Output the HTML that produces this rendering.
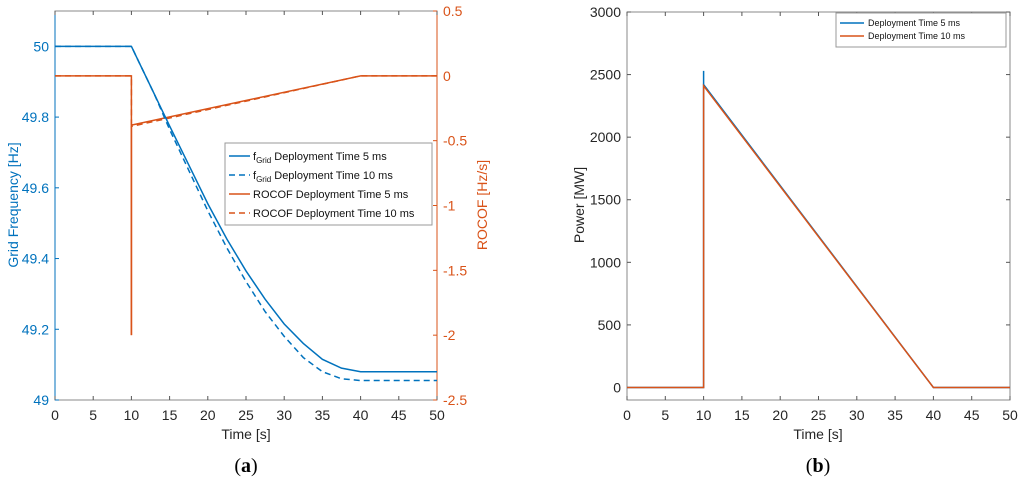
<!DOCTYPE html>
<html><head><meta charset="utf-8"><style>
body{margin:0;background:#fff;width:1024px;height:487px;overflow:hidden}
svg{font-family:"Liberation Sans",sans-serif}
</style></head><body>
<svg id="c" width="1024" height="487"></svg>
<script>
const tA=[0,10,10.001,11,12,13,14,15,17.5,20,22.5,25,27.5,30,32.5,35,37.5,40,50];
const fSolid=[50,50,50,49.955,49.91,49.865,49.82,49.775,49.665,49.555,49.455,49.365,49.285,49.215,49.16,49.115,49.09,49.08,49.08];
const fDash=[50,50,50,49.955,49.91,49.865,49.815,49.765,49.65,49.535,49.43,49.335,49.25,49.18,49.12,49.08,49.06,49.055,49.055];
const tR=[0,10,10,10,40,50];
const rocof5=[0,0,-2,-0.38,0,0];
const rocof10=[0,0,-2,-0.39,0,0];
const tP=[0,10,10,10,40,50];
const pow5=[0,0,2530,2420,0,0];
const pow10=[0,0,2410,2410,0,0];
const xTicks=[0,5,10,15,20,25,30,35,40,45,50];
const fTicks=[49,49.2,49.4,49.6,49.8,50];
const rTicks=[-2.5,-2,-1.5,-1,-0.5,0,0.5];
const pTicks=[0,500,1000,1500,2000,2500,3000];

const S=document.getElementById('c');const NS='http://www.w3.org/2000/svg';
function el(t,a,p){const e=document.createElementNS(NS,t);for(const k in a)e.setAttribute(k,a[k]);(p||S).appendChild(e);return e;}
function txt(x,y,s,a,p){const e=el('text',Object.assign({x:x,y:y},a),p);e.textContent=s;return e;}
const BLUE='#0072bd',RED='#d95319';
function lin(d0,d1,r0,r1){return v=>r0+(v-d0)/(d1-d0)*(r1-r0);}
function path(xs,ys,fx,fy){return xs.map((v,i)=>(i?'L':'M')+fx(v).toFixed(2)+','+fy(ys[i]).toFixed(2)).join('');}

// Panel A
const ax=lin(0,50,55,437), ayF=lin(49,50.1,400,11), ayR=lin(-2.5,0.5,400,11);
const gA=el('g',{});
el('rect',{x:55,y:11,width:382,height:389,fill:'#fff',stroke:'#888','stroke-width':1},gA);
el('line',{x1:55,y1:11,x2:55,y2:400,stroke:BLUE,'stroke-width':1},gA);
el('line',{x1:437,y1:11,x2:437,y2:400,stroke:RED,'stroke-width':1},gA);
xTicks.forEach(v=>{const x=ax(v);el('line',{x1:x,y1:400,x2:x,y2:396,stroke:'#555'},gA);el('line',{x1:x,y1:11,x2:x,y2:15,stroke:'#555'},gA);
 const t=txt(x,420,String(v),{'text-anchor':'middle','font-size':14,fill:'#262626'},gA);});
fTicks.forEach(v=>{const y=ayF(v);el('line',{x1:55,y1:y,x2:59,y2:y,stroke:BLUE},gA);
 const t=txt(49,y+5,String(v),{'text-anchor':'end','font-size':14,fill:BLUE},gA);});
rTicks.forEach(v=>{const y=ayR(v);el('line',{x1:437,y1:y,x2:433,y2:y,stroke:RED},gA);
 const t=txt(443,y+5,String(v),{'font-size':14,fill:RED},gA);});
let e;
e=el('path',{d:path(tR,rocof5,ax,ayR),fill:'none',stroke:RED,'stroke-width':1.5},gA);
e=el('path',{d:path(tR,rocof10,ax,ayR),fill:'none',stroke:RED,'stroke-width':1.5,'stroke-dasharray':'6,4'},gA);
e=el('path',{d:path(tA,fSolid,ax,ayF),fill:'none',stroke:BLUE,'stroke-width':1.5},gA);
e=el('path',{d:path(tA,fDash,ax,ayF),fill:'none',stroke:BLUE,'stroke-width':1.5,'stroke-dasharray':'6,4'},gA);
e=txt(246,439,'Time [s]',{'text-anchor':'middle','font-size':14,fill:'#262626'},gA);
e=txt(0,0,'Grid Frequency [Hz]',{'text-anchor':'middle','font-size':14,fill:BLUE,transform:'translate(18,205) rotate(-90)'},gA);
e=txt(0,0,'ROCOF [Hz/s]',{'text-anchor':'middle','font-size':14,fill:RED,transform:'translate(487,205) rotate(-90)'},gA);
const lg=el('g',{},gA);
el('rect',{x:225,y:143,width:207,height:82,fill:'#fff',stroke:'#999'},lg);
const ents=[[BLUE,'',true],[BLUE,'6,4',true],[RED,'',false],[RED,'6,4',false]];
const labs=[' Deployment Time 5 ms',' Deployment Time 10 ms','ROCOF Deployment Time 5 ms','ROCOF Deployment Time 10 ms'];
ents.forEach((en,i)=>{const y=156+i*19;const g=el('g',{},lg);
 el('line',{x1:229,y1:y,x2:250,y2:y,stroke:en[0],'stroke-width':1.5,'stroke-dasharray':en[1]||'none'},g);
 const t=txt(253,y+4,'',{'font-size':11,fill:'#111'},g);
 if(en[2]){const a=el('tspan',{},t);a.textContent='f';const b=el('tspan',{'font-size':8,dy:3},t);b.textContent='Grid';const c=el('tspan',{dy:-3},t);c.textContent=labs[i];}
 else t.textContent=labs[i];});
e=txt(246,472,'',{'text-anchor':'middle','font-size':20,'font-family':'Liberation Serif,serif'},gA);
e.innerHTML='(<tspan font-weight="bold">a</tspan>)';

// Panel B
const bx=lin(0,50,627,1010), by=lin(-100,3000,400,12);
const gB=el('g',{});
el('rect',{x:627,y:12,width:383,height:388,fill:'#fff',stroke:'#888'},gB);
xTicks.forEach(v=>{const x=bx(v);el('line',{x1:x,y1:400,x2:x,y2:396,stroke:'#555'},gB);el('line',{x1:x,y1:12,x2:x,y2:16,stroke:'#555'},gB);
 const t=txt(x,420,String(v),{'text-anchor':'middle','font-size':14,fill:'#262626'},gB);});
pTicks.forEach(v=>{const y=by(v);el('line',{x1:627,y1:y,x2:631,y2:y,stroke:'#555'},gB);el('line',{x1:1010,y1:y,x2:1006,y2:y,stroke:'#555'},gB);
 const t=txt(621,y+5,String(v),{'text-anchor':'end','font-size':14,fill:'#262626'},gB);});
e=el('path',{d:path(tP,pow5,bx,by),fill:'none',stroke:BLUE,'stroke-width':1.5},gB);
e=el('path',{d:path(tP,pow10,bx,by),fill:'none',stroke:RED,'stroke-width':1.5},gB);
e=txt(818,439,'Time [s]',{'text-anchor':'middle','font-size':14,fill:'#262626'},gB);
e=txt(0,0,'Power [MW]',{'text-anchor':'middle','font-size':14,fill:'#262626',transform:'translate(584,205) rotate(-90)'},gB);
const lb=el('g',{},gB);
el('rect',{x:836,y:13,width:170,height:34,fill:'#fff',stroke:'#999'},lb);
[[BLUE,'Deployment Time 5 ms'],[RED,'Deployment Time 10 ms']].forEach((en,i)=>{const y=23+i*13;const g=el('g',{},lb);
 el('line',{x1:840,y1:y,x2:864,y2:y,stroke:en[0],'stroke-width':1.5},g);txt(868,y+3,en[1],{'font-size':9,fill:'#111'},g);});
e=txt(818,472,'',{'text-anchor':'middle','font-size':20,'font-family':'Liberation Serif,serif'},gB);
e.innerHTML='(<tspan font-weight="bold">b</tspan>)';
</script>
</body></html>
